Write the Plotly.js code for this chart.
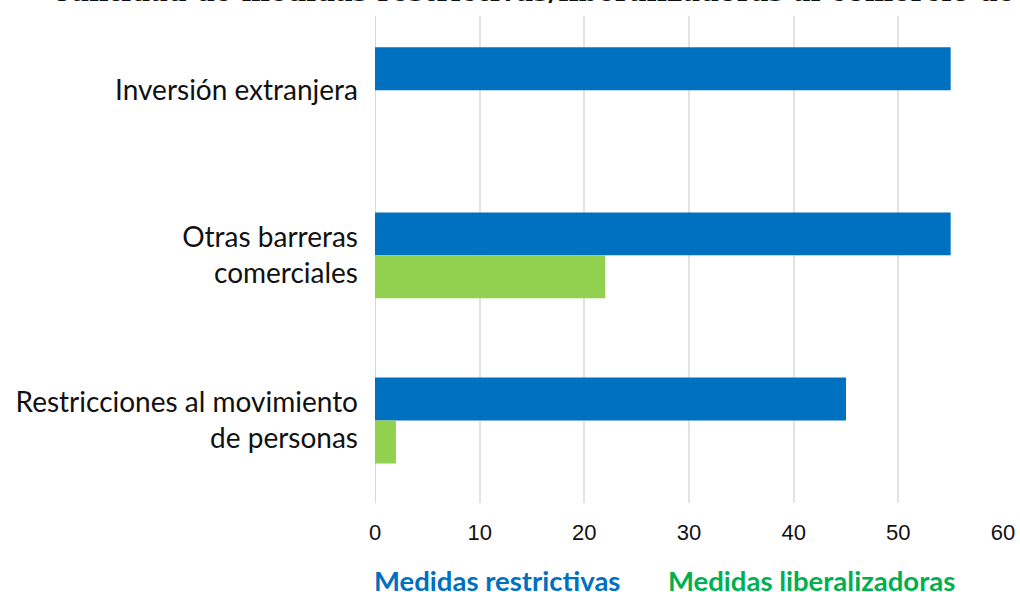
<!DOCTYPE html>
<html>
<head>
<meta charset="utf-8">
<script src="https://cdn.plot.ly/plotly-3.0.1.min.js"></script>
<style>html,body{margin:0;padding:0;background:#fff;}#chart{width:1020px;height:592px;}</style>
</head>
<body>
<div id="chart"></div>
<script>
var categories = ["Inversión extranjera", "Otras barreras<br>comerciales", "Restricciones al movimiento<br>de personas"];
var restrictivas = [55, 55, 45];
var liberalizadoras = [0, 22, 2];
var xTicks = [0, 10, 20, 30, 40, 50, 60];
var titleText = "Cantidad de medidas restrictivas/liberalizadoras al comercio de servicios";
var seriesNames = ["Medidas restrictivas", "Medidas liberalizadoras"];

var W = 1020, H = 592;
var mL = 375, mR = 17, mT = 16, mB = 89;
var plotW = W - mL - mR;

var traces = [
  {type: "bar", orientation: "h", name: seriesNames[0], y: categories, x: restrictivas,
   marker: {color: "#0070C0"}, showlegend: false, hoverinfo: "x"},
  {type: "bar", orientation: "h", name: seriesNames[1], y: categories, x: liberalizadoras,
   marker: {color: "#92D050"}, showlegend: false, hoverinfo: "x"}
];

var layout = {
  width: W, height: H,
  margin: {l: mL, r: mR, t: mT, b: mB, pad: 0},
  paper_bgcolor: "#ffffff", plot_bgcolor: "#ffffff",
  barmode: "group", bargap: 0.48, bargroupgap: 0,
  xaxis: {range: [0, 60], tickvals: xTicks, ticktext: xTicks.map(String),
    showgrid: true, gridcolor: "#e3e3e3", gridwidth: 2, zeroline: false, showline: false,
    ticks: "", ticklabelstandoff: 14,
    tickfont: {family: "Liberation Sans, Arial, sans-serif", size: 22, color: "#111111"}, fixedrange: true},
  yaxis: {type: "category", range: [2.5, -0.45], autorange: false,
    showgrid: false, zeroline: false, showline: false, ticks: "", ticklabelstandoff: 16,
    tickfont: {family: "Lato, sans-serif", size: 28, color: "#111111"}, fixedrange: true},
  annotations: [
    {text: "<b>" + titleText + "</b>", xref: "paper", yref: "paper", x: (48 - mL) / plotW, y: 1,
     xanchor: "left", yanchor: "bottom", yshift: 7, showarrow: false,
     font: {family: "DejaVu Serif, Liberation Serif, serif", size: 27, color: "#111111"}},
    {text: "<b>" + seriesNames[0] + "</b>", xref: "paper", yref: "paper", x: (372 - mL) / plotW, y: 0,
     xanchor: "left", yanchor: "middle", yshift: -(580 - (H - mB)), showarrow: false,
     font: {family: "Lato, sans-serif", size: 27.5, color: "#0070C0"}},
    {text: "<b>" + seriesNames[1] + "</b>", xref: "paper", yref: "paper", x: (666 - mL) / plotW, y: 0,
     xanchor: "left", yanchor: "middle", yshift: -(580 - (H - mB)), showarrow: false,
     font: {family: "Lato, sans-serif", size: 27.5, color: "#00B050"}}
  ],
  shapes: [
    {type: "line", xref: "x", yref: "paper", x0: 0, x1: 0, y0: 0, y1: 1, line: {color: "#d8d8d8", width: 2}, layer: "below"}
  ]
};

Plotly.newPlot("chart", traces, layout, {displayModeBar: false, staticPlot: true});
</script>
</body>
</html>
